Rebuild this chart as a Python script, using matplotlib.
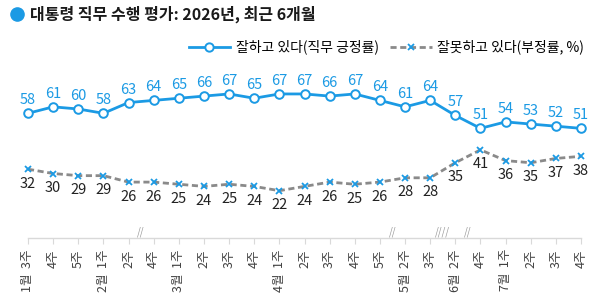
import matplotlib
matplotlib.use("Agg")
import matplotlib.pyplot as plt
from matplotlib.lines import Line2D

plt.rcParams['font.family'] = ['Noto Sans CJK KR', 'DejaVu Sans']

# ---- data ----
week_labels = ["1월  3주", "4주", "5주", "2월  1주", "2주", "4주", "3월  1주", "2주", "3주", "4주",
               "4월  1주", "2주", "3주", "4주", "5주", "5월  2주", "3주", "6월  2주", "4주",
               "7월  1주", "2주", "3주", "4주"]
approve = [58, 61, 60, 58, 63, 64, 65, 66, 67, 65, 67, 67, 66, 67, 64, 61, 64, 57, 51, 54, 53, 52, 51]
disapprove = [32, 30, 29, 29, 26, 26, 25, 24, 25, 24, 22, 24, 26, 25, 26, 28, 28, 35, 41, 36, 35, 37, 38]
breaks = [(4.5, "//"), (14.5, "//"), (16.5, "////"), (17.5, "//")]
title = "대통령 직무 수행 평가: 2026년, 최근 6개월"
legend_labels = ["잘하고 있다(직무 긍정률)", "잘못하고 있다(부정률, %)"]

BLUE = "#1B9AE4"
GRAY = "#8a8a8a"

W, H = 600, 308
fig = plt.figure(figsize=(W / 100, H / 100), dpi=100)
ax = fig.add_axes([28 / W, (H - 238) / H, 553 / W, 172 / H])

x = list(range(len(approve)))
ax.plot(x, approve, color=BLUE, lw=2.0, marker='o', ms=6.2, mfc='white', mec=BLUE, mew=1.4,
        clip_on=False, zorder=3)
ax.plot(x, disapprove, color=GRAY, lw=2.0, ls=(0, (2.2, 1.3)), marker='x', ms=5, mec=BLUE, mew=1.3,
        clip_on=False, zorder=3)

for xi, v in zip(x, approve):
    ax.annotate(str(v), (xi, v), xytext=(0, 6.5), textcoords='offset points', ha='center',
                va='baseline', fontsize=10.5, color=BLUE)
for xi, v in zip(x, disapprove):
    ax.annotate(str(v), (xi, v), xytext=(0, -5.5), textcoords='offset points', ha='center',
                va='top', fontsize=10.5, color='#222222')

ax.set_xlim(0, len(approve) - 1)
ax.set_ylim(0, 80)
for s in ['top', 'right', 'left']:
    ax.spines[s].set_visible(False)
ax.spines['bottom'].set_color('#d9d9d9')
ax.spines['bottom'].set_linewidth(1.0)
ax.set_yticks([])
ax.set_xticks(x)
ax.set_xticklabels(week_labels, rotation=90, fontsize=9, color='#404040')
ax.tick_params(axis='x', length=4, width=0.8, color='#d9d9d9', pad=4)

for bx, s in breaks:
    ax.annotate(s, (bx, 0), xytext=(0, 1), textcoords='offset points', ha='center', va='bottom',
                fontsize=7, color='#999999', style='italic', annotation_clip=False)

# legend
handles = [Line2D([], [], color=BLUE, lw=2.0, marker='o', ms=6, mfc='white', mec=BLUE, mew=1.4),
           Line2D([], [], color=GRAY, lw=2.0, ls=(0, (2.2, 1.3)), marker='x', ms=5, mec=BLUE, mew=1.3)]
fig.legend(handles, legend_labels, loc='center right', bbox_to_anchor=(584 / W, 1 - 47 / H), ncol=2,
           frameon=False, fontsize=10, handlelength=3.0, handletextpad=0.4, columnspacing=0.8,
           borderaxespad=0, borderpad=0)

# title
fig.add_artist(Line2D([17 / W], [1 - 14 / H], marker='o', ms=9.5, color=BLUE, transform=fig.transFigure))
fig.text(30 / W, 1 - 14 / H, title, ha='left', va='center', fontsize=11.5, fontweight='bold',
         color='#1a1a1a')

fig.savefig("out.png", dpi=100)
